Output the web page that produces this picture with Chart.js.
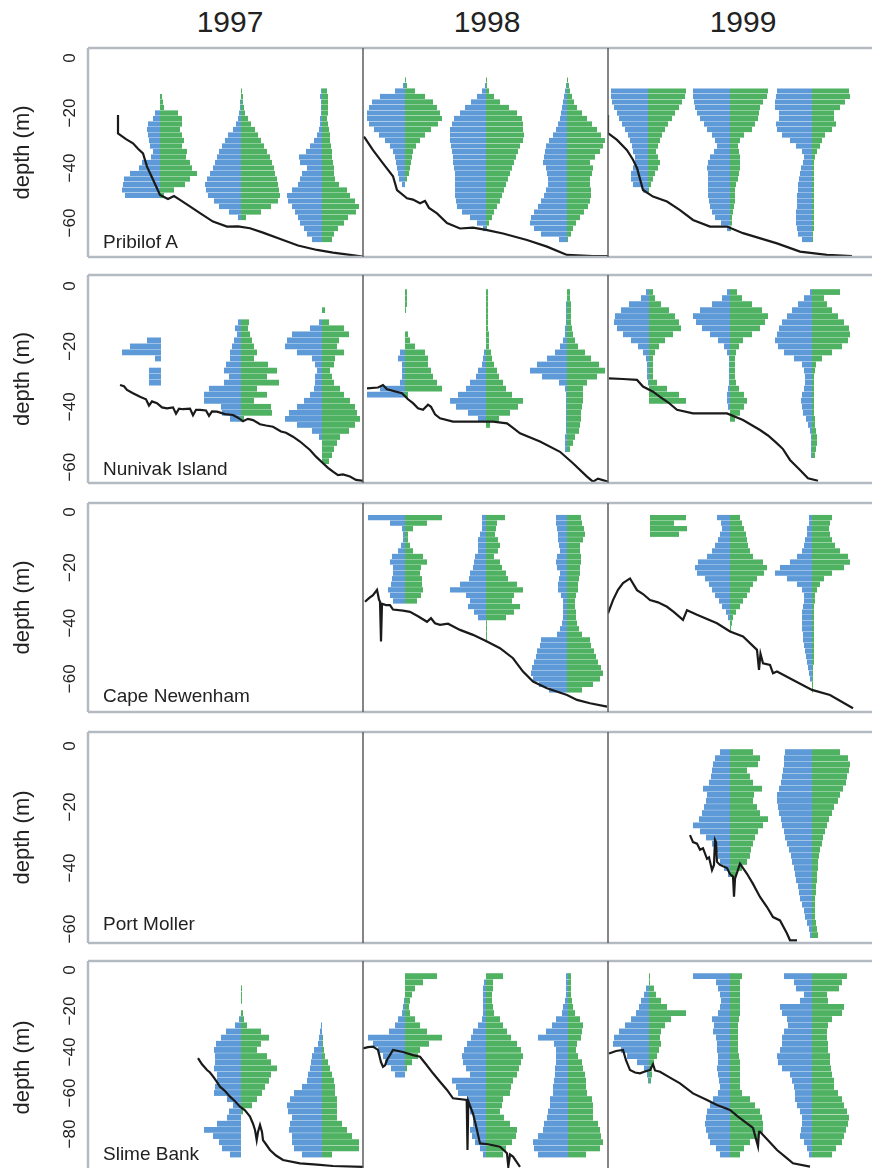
<!DOCTYPE html>
<html>
<head>
<meta charset="utf-8">
<title>Depth profiles 1997-1999</title>
<script src="https://cdn.jsdelivr.net/npm/chart.js"></script>
<style>
    html, body { margin: 0; padding: 0; background: #fff; overflow: hidden; }
    body { width: 872px; height: 1168px; position: relative; font-family: "Liberation Sans", Arial, sans-serif; color: #222; }
    .panel { position: absolute; }
    .year { position: absolute; width: 200px; text-align: center; font-size: 30px; line-height: 1; }
    .site { position: absolute; font-size: 19px; line-height: 1; pointer-events: none; }
</style>
</head>
<body>
<script>
// ---- data ----
const sites = ['Pribilof A', 'Nunivak Island', 'Cape Newenham', 'Port Moller', 'Slime Bank'];
const years = ['1997', '1998', '1999'];
const binStep = [2, 2, 2, 2, 3]; // depth bin (m) per site

// Pribilof A
const PA97_x = [72, 153, 234];
const PA97_top = [14, 12, 12];
const PA97_blue = [
    [0, 0, 0, 5, 7, 12, 13, 12, 11, 10, 7, 9, 18, 21, 30, 36, 37, 38, 35],
    [0, 0, 1, 1, 2, 3, 5, 8, 13, 16, 19, 22, 24, 26, 28, 31, 34, 36, 35, 33, 27, 22, 12, 3],
    [1, 2, 1, 1, 1, 2, 2, 3, 5, 8, 12, 16, 23, 22, 15, 20, 22, 24, 30, 35, 34, 30, 27, 24, 22, 18, 15, 10]
];
const PA97_green = [
    [2, 3, 4, 18, 22, 22, 20, 22, 24, 22, 27, 26, 30, 32, 37, 30, 25, 14, 4],
    [1, 2, 2, 3, 4, 7, 10, 14, 17, 20, 23, 26, 29, 31, 33, 34, 36, 37, 38, 39, 37, 30, 20, 5],
    [5, 6, 6, 6, 6, 5, 6, 7, 8, 8, 9, 10, 10, 11, 12, 12, 13, 17, 25, 28, 33, 37, 34, 26, 22, 16, 12, 10]
];
const PA97_bed = [[30, 20.7], [30, 27.4], [38, 29.5], [45, 31], [50, 33], [55, 34.7], [59, 39.5], [66, 45], [72, 49.8], [80, 51.3], [86, 50.2], [92, 51.6], [100, 53.5], [112, 56.4], [125, 59.5], [139, 61.3], [150, 61.2], [162, 61.9], [175, 63.5], [195, 66.2], [210, 68.2], [229, 69.8], [245, 70.8], [262, 71.6], [275, 72.2]];

const PA98_x = [42, 123, 204];
const PA98_top = [8, 8, 8];
const PA98_blue = [
    [0, 2, 10, 25, 33, 36, 38, 38, 36, 31, 26, 20, 15, 12, 10, 9, 8, 7, 6, 3],
    [0, 1, 4, 9, 15, 21, 26, 32, 34, 36, 36, 36, 35, 34, 33, 33, 32, 31, 31, 31, 31, 31, 30, 29, 24, 16, 9, 3],
    [0, 1, 2, 3, 4, 5, 6, 7, 9, 11, 14, 18, 21, 22, 23, 24, 21, 20, 19, 19, 21, 23, 26, 29, 33, 36, 37, 33, 26, 8]
];
const PA98_green = [
    [1, 2, 10, 20, 28, 32, 35, 37, 33, 26, 20, 15, 11, 8, 7, 6, 5, 4, 2, 0],
    [1, 1, 3, 8, 14, 23, 31, 36, 37, 37, 38, 37, 34, 32, 30, 28, 26, 24, 22, 20, 18, 16, 14, 11, 8, 6, 3, 1],
    [1, 2, 3, 5, 7, 10, 15, 20, 25, 30, 34, 38, 36, 33, 28, 23, 26, 25, 23, 23, 24, 24, 23, 21, 17, 13, 9, 6, 4, 1]
];
const PA98_bed = [[1, 28.6], [10, 33.5], [20, 38.3], [30, 43], [34, 48], [44, 51], [50, 51.5], [57, 52.8], [62, 52], [66, 54.5], [74, 56.5], [84, 60], [97, 62], [110, 61.7], [123, 62.5], [140, 63.8], [164, 66.2], [184, 68.6], [204, 71.6], [230, 72], [245, 72]];

const PA99_x = [40, 122, 204];
const PA99_top = [12, 12, 12];
const PA99_blue = [
    [37, 37, 36, 34, 31, 29, 26, 23, 20, 18, 16, 15, 13, 13, 15, 17, 17, 15, 5],
    [37, 37, 36, 35, 33, 30, 26, 23, 18, 15, 13, 16, 20, 22, 23, 22, 22, 22, 22, 22, 21, 20, 18, 15, 9, 3],
    [35, 36, 37, 37, 33, 33, 36, 35, 30, 22, 16, 10, 8, 9, 11, 12, 13, 14, 14, 15, 15, 15, 16, 16, 16, 15, 14, 10]
];
const PA99_green = [
    [38, 37, 34, 31, 27, 24, 20, 17, 14, 12, 10, 8, 10, 12, 10, 7, 5, 3, 1],
    [38, 37, 33, 30, 29, 28, 25, 22, 14, 10, 8, 9, 10, 10, 10, 9, 8, 6, 5, 5, 5, 4, 3, 2, 2, 1],
    [37, 38, 33, 28, 22, 22, 24, 20, 13, 10, 8, 5, 3, 2, 2, 2, 2, 2, 2, 2, 2, 2, 2, 2, 2, 2, 1, 1]
];
const PA99_bed = [[0, 20.7], [0, 27.3], [9, 29.8], [19, 33.5], [25, 37], [29, 40], [35, 48], [45, 50.4], [59, 52.2], [72, 55.3], [85, 58.9], [102, 61.3], [119, 61.3], [135, 63.7], [169, 67.4], [192, 70.4], [219, 71.6], [244, 72]];

// Nunivak Island
const NI97_x = [73, 153, 234];
const NI97_top = [18, 12, 8];
const NI97_blue = [
    [14, 31, 39, 6, 0, 12, 12, 12],
    [3, 6, 4, 7, 9, 11, 11, 15, 17, 12, 17, 32, 37, 37, 20, 19, 11],
    [0, 0, 3, 12, 30, 35, 37, 25, 10, 7, 5, 7, 7, 8, 12, 18, 25, 33, 37, 25, 10, 3, 0, 0, 0, 0]
];
const NI97_green = [
    [0, 0, 0, 0, 0, 0, 0, 0],
    [8, 7, 9, 11, 13, 16, 13, 27, 36, 26, 38, 16, 26, 13, 30, 31, 3],
    [3, 0, 7, 22, 27, 17, 15, 22, 13, 12, 8, 10, 12, 18, 22, 28, 33, 35, 38, 33, 27, 18, 15, 12, 10, 7]
];
const NI97_bed = [[32, 32.8], [36, 33.2], [39, 34.4], [45, 35.5], [52, 36.7], [58, 37.5], [61, 39.6], [64, 38.2], [69, 38.8], [74, 40.2], [79, 40.5], [85, 40.2], [88, 42.3], [91, 40.6], [95, 40.8], [102, 40.6], [105, 42.8], [108, 41], [112, 41], [118, 41.2], [121, 43], [124, 41.5], [129, 41.6], [137, 42.4], [145, 42.7], [150, 43.6], [155, 44.8], [160, 44], [165, 44.4], [172, 45.8], [178, 46.2], [185, 46.6], [193, 48.2], [198, 48.6], [205, 49.9], [212, 51.5], [222, 54.3], [228, 56.5], [235, 58.7], [240, 60.2], [245, 61.5], [250, 62.6], [255, 62.4], [262, 63.1], [268, 64.2], [275, 64.5]];

const NI98_x = [42, 123, 204];
const NI98_top = [2, 2, 2];
const NI98_blue = [
    [0, 0, 0, 0, 0, 0, 0, 0, 0, 0, 5, 7, 3, 3, 3, 5, 25, 38],
    [0, 0, 0, 0, 0, 0, 0, 0, 0, 0, 2, 3, 4, 8, 10, 16, 20, 28, 36, 30, 18, 8, 0],
    [0, 0, 1, 1, 1, 1, 2, 2, 4, 7, 12, 20, 30, 37, 25, 8, 2, 1, 1, 1, 1, 1, 1, 1, 2, 2, 2]
];
const NI98_green = [
    [2, 2, 2, 1, 0, 0, 0, 3, 5, 10, 20, 23, 23, 26, 28, 32, 37, 3],
    [2, 2, 2, 2, 2, 2, 2, 3, 3, 3, 5, 6, 8, 11, 13, 17, 20, 26, 37, 32, 24, 13, 4],
    [3, 3, 4, 4, 4, 4, 5, 6, 8, 11, 18, 24, 32, 38, 30, 20, 16, 16, 16, 15, 14, 14, 13, 12, 8, 6, 3]
];
const NI98_bed = [[4, 33.9], [15, 33.6], [20, 32.8], [24, 34.2], [39, 35.5], [45, 37.5], [50, 38.8], [55, 40.5], [60, 41], [65, 39.3], [68, 40], [72, 42.5], [77, 43.8], [90, 44.9], [130, 44.9], [144, 45.5], [150, 47], [157, 48.8], [177, 51.5], [197, 54.9], [210, 58.7], [224, 63.1], [230, 64.8], [235, 63.8], [245, 64.8]];

const NI99_x = [41, 122, 204];
const NI99_top = [2, 2, 2];
const NI99_blue = [
    [3, 8, 20, 28, 34, 35, 32, 26, 18, 11, 6, 3, 2, 2, 2, 1, 0, 0, 0],
    [3, 8, 18, 30, 37, 34, 28, 20, 12, 6, 3, 1, 1, 1, 1, 1, 2, 3, 3, 2, 0, 0],
    [2, 8, 14, 20, 25, 30, 33, 35, 37, 34, 28, 18, 10, 8, 7, 7, 8, 10, 11, 10, 9, 6, 4, 2, 1, 1, 1, 1]
];
const NI99_green = [
    [4, 6, 12, 20, 26, 30, 32, 24, 16, 10, 6, 4, 4, 4, 4, 8, 18, 30, 37],
    [7, 12, 22, 32, 38, 35, 30, 22, 13, 9, 6, 5, 5, 5, 5, 6, 9, 14, 17, 14, 10, 5],
    [28, 12, 15, 20, 26, 32, 37, 38, 36, 30, 20, 10, 4, 3, 2, 2, 2, 2, 2, 2, 2, 3, 3, 4, 5, 5, 4, 3]
];
const NI99_bed = [[1, 30.6], [15, 30.8], [29, 31.1], [35, 33.3], [45, 35], [52, 36.7], [60, 38.5], [69, 41], [85, 42.2], [119, 42.2], [135, 44.4], [152, 47.7], [160, 49.5], [169, 52.1], [175, 54], [182, 57.6], [192, 60.9], [200, 63.7], [210, 64.5]];

// Cape Newenham
const CN98_x = [42, 123, 204];
const CN98_top = [2, 2, 2];
const CN98_blue = [
    [37, 15, 3, 2, 2, 4, 7, 13, 15, 12, 12, 13, 14, 17, 15, 12],
    [4, 4, 4, 6, 8, 8, 8, 11, 12, 13, 16, 17, 26, 36, 20, 16, 18, 12, 8, 0, 0, 0, 0],
    [11, 11, 10, 9, 9, 8, 7, 10, 11, 10, 7, 8, 9, 9, 6, 4, 4, 4, 4, 5, 7, 10, 26, 27, 30, 31, 33, 35, 36, 34, 28, 18]
];
const CN98_green = [
    [37, 22, 8, 3, 3, 5, 8, 18, 22, 16, 15, 17, 17, 18, 16, 12],
    [19, 11, 10, 9, 12, 14, 12, 8, 14, 16, 20, 22, 31, 37, 28, 26, 34, 28, 20, 1, 1, 1, 1],
    [14, 15, 17, 18, 16, 13, 13, 14, 14, 13, 13, 12, 11, 11, 9, 8, 8, 9, 9, 10, 12, 15, 23, 24, 27, 29, 31, 34, 36, 33, 26, 15]
];
const CN98_bed = [[2, 32.3], [6, 31], [10, 29.9], [14, 28], [16, 31.5], [17, 32.3], [18, 46.6], [19, 33], [23, 33.5], [27, 33.5], [30, 35.1], [40, 35.5], [47, 35.9], [55, 37.5], [64, 39.5], [68, 38.2], [72, 40], [77, 40.6], [85, 40.2], [97, 42.4], [110, 44.2], [124, 46.6], [137, 49], [150, 52.6], [160, 57.4], [170, 61], [184, 63.4], [204, 65.8], [214, 67.6], [227, 68.8], [244, 70]];

const CN99_x = [42, 122, 204];
const CN99_top = [2, 2, 2];
const CN99_blue = [
    [0, 0, 0, 0],
    [13, 9, 8, 10, 12, 15, 18, 23, 32, 35, 33, 25, 21, 18, 15, 11, 8, 4, 2, 0, 0],
    [3, 3, 5, 5, 7, 8, 10, 15, 22, 32, 37, 25, 15, 10, 8, 8, 9, 10, 10, 10, 10, 9, 9, 8, 7, 6, 5, 4, 3, 2, 0, 0]
];
const CN99_green = [
    [36, 24, 37, 29],
    [10, 12, 14, 16, 17, 18, 20, 23, 33, 37, 34, 27, 23, 20, 17, 13, 10, 6, 3, 2, 1],
    [20, 18, 17, 18, 20, 23, 28, 36, 38, 32, 20, 12, 8, 5, 3, 3, 2, 2, 2, 2, 2, 2, 2, 2, 2, 2, 2, 1, 1, 1, 1, 1]
];
const CN99_bed = [[0, 36.5], [5, 31.7], [10, 28], [15, 25.6], [22, 23.9], [29, 28.1], [35, 29.5], [42, 31.7], [50, 32.5], [59, 34.1], [66, 36], [75, 38.8], [79, 35.3], [89, 37], [109, 40], [122, 43], [135, 44.8], [149, 49.6], [151, 56.8], [152.5, 51], [155, 54.4], [162, 55], [165, 58], [169, 57.4], [185, 60.4], [204, 64], [222, 65.8], [245, 70.6]];

// Port Moller
const PM99_x = [122, 204];
const PM99_top = [2, 2];
const PM99_blue = [
    [10, 15, 17, 18, 19, 21, 27, 23, 24, 26, 28, 31, 37, 30, 24, 18, 14, 12, 10, 6, 2],
    [27, 28, 28, 29, 30, 31, 33, 35, 35, 34, 33, 31, 30, 28, 27, 25, 23, 21, 20, 18, 17, 16, 14, 13, 12, 10, 8, 7, 5, 3, 2]
];
const PM99_green = [
    [23, 30, 28, 17, 20, 23, 32, 24, 23, 27, 30, 38, 33, 28, 25, 23, 21, 20, 17, 12, 6],
    [28, 36, 38, 37, 35, 34, 31, 28, 26, 22, 20, 17, 15, 13, 11, 10, 8, 7, 6, 6, 5, 5, 4, 4, 3, 3, 3, 3, 4, 5, 6]
];
const PM99_bed = [[82, 29.2], [85, 31.5], [89, 32], [92, 34], [95, 33.5], [99, 37], [101, 36.5], [104, 40.7], [106, 39], [107, 30.8], [108, 31.5], [109, 38], [112, 39], [119, 40], [122, 42], [125, 42.8], [126, 49.4], [127, 43.5], [132, 38.6], [139, 41.9], [145, 45.2], [152, 49.5], [159, 52.8], [165, 56.1], [172, 57.2], [179, 61.5], [182, 63.7], [189, 63.7]];

// Slime Bank
const SB97_x = [153, 234];
const SB97_top = [9, 27];
const SB97_blue = [
    [0, 0, 0, 0, 0, 2, 6, 15, 20, 25, 27, 26, 26, 27, 24, 24, 26, 27, 14, 8, 12, 14, 24, 37, 28, 22, 19, 11],
    [1, 2, 3, 4, 8, 10, 11, 12, 14, 15, 20, 28, 32, 35, 34, 30, 32, 33, 30, 30, 28, 20]
];
const SB97_green = [
    [1, 1, 1, 0, 2, 3, 6, 20, 28, 20, 16, 26, 30, 36, 30, 28, 24, 21, 16, 11, 2, 0, 0, 0, 0, 0, 0, 0],
    [0, 0, 1, 1, 2, 3, 6, 8, 10, 12, 13, 13, 15, 15, 15, 15, 20, 25, 30, 37, 37, 10]
];
const SB97_bed = [[110, 43], [114, 46], [119, 48.8], [122, 50], [125, 51.9], [128, 54], [132, 56.9], [137, 59], [142, 61.8], [147, 64], [152, 66.7], [157, 68.5], [162, 71.5], [165, 75], [167, 78], [168.7, 83], [170, 79], [172, 75.6], [174, 79], [175, 83], [178, 85], [182, 87.8], [188, 90.5], [195, 92.7], [212, 94.3], [229, 94.9], [245, 95.6], [275, 96]];

const SB98_x = [42, 123, 205];
const SB98_top = [3, 3, 3];
const SB98_blue = [
    [0, 0, 0, 0, 1, 2, 3, 7, 10, 16, 37, 32, 27, 22, 20, 14, 10],
    [0, 2, 3, 3, 3, 3, 3, 4, 8, 13, 15, 19, 22, 24, 23, 20, 16, 34, 30, 28, 19, 18, 16, 13, 13, 16, 14, 11, 6, 3],
    [2, 2, 2, 2, 3, 5, 6, 12, 16, 22, 30, 14, 12, 12, 12, 13, 13, 14, 15, 15, 18, 18, 20, 21, 24, 25, 30, 35, 34, 30]
];
const SB98_green = [
    [32, 18, 10, 7, 5, 4, 5, 10, 15, 22, 37, 24, 15, 13, 7, 2, 0],
    [17, 7, 7, 6, 6, 7, 8, 14, 17, 21, 25, 31, 35, 37, 35, 33, 31, 27, 25, 24, 17, 16, 14, 18, 24, 31, 30, 26, 20, 17],
    [3, 3, 3, 3, 4, 5, 7, 12, 15, 14, 13, 9, 8, 10, 14, 15, 17, 18, 18, 19, 24, 25, 25, 25, 30, 32, 33, 35, 32, 18]
];
const SB98_bed = [[0, 38.2], [5, 37.6], [10, 37.4], [15, 39], [18, 45], [20, 47.2], [22, 46.5], [24, 43.9], [30, 39], [40, 40], [50, 41.5], [57, 42.3], [63, 46], [70, 50.4], [77, 54.5], [84, 58.5], [90, 62.6], [103.7, 63.4], [104.5, 87.8], [105.3, 64], [110, 70], [113, 76], [117, 84.6], [125, 85], [137, 86.2], [144, 89.4], [145.3, 95.9], [147, 90], [150, 91], [157, 96]];

const SB99_x = [41, 122, 204];
const SB99_top = [3, 3, 3];
const SB99_blue = [
    [0, 0, 3, 5, 8, 10, 13, 18, 24, 30, 35, 36, 28, 22, 12, 5, 2, 1],
    [37, 14, 12, 10, 9, 10, 12, 18, 16, 17, 14, 13, 13, 12, 12, 13, 12, 11, 10, 12, 17, 20, 23, 24, 25, 24, 22, 20, 14, 10],
    [28, 18, 16, 8, 12, 32, 30, 25, 24, 28, 30, 30, 32, 35, 34, 30, 22, 20, 18, 17, 17, 15, 12, 10, 10, 11, 12, 8, 5, 3]
];
const SB99_green = [
    [1, 1, 5, 7, 12, 18, 37, 22, 16, 12, 11, 12, 10, 8, 5, 3, 3, 2],
    [12, 10, 10, 10, 10, 10, 10, 9, 8, 8, 8, 8, 8, 9, 10, 10, 10, 10, 10, 12, 20, 25, 30, 32, 33, 33, 28, 20, 14, 10],
    [35, 30, 27, 15, 16, 32, 30, 20, 16, 15, 15, 16, 16, 18, 18, 19, 20, 22, 22, 26, 30, 32, 35, 37, 36, 34, 32, 30, 24, 20]
];
const SB99_bed = [[1, 40.7], [8, 39.5], [15, 39], [18, 44], [22, 48.8], [27, 50], [32, 50.4], [37, 49.5], [42, 48.8], [45, 46], [47, 49], [52, 49.6], [62, 52.5], [72, 55.3], [85, 60.2], [99, 63.4], [109, 65.9], [122, 68.3], [130, 71.5], [139, 74.8], [145, 77], [150, 86], [151, 79], [152, 78.9], [160, 83], [169, 87.8], [177, 91], [185, 94.3], [202, 95.9]];

// [stations, bin tops, blue, green, bottom profile] per site and year; null = no survey
const panels = [
    [[PA97_x, PA97_top, PA97_blue, PA97_green, PA97_bed], [PA98_x, PA98_top, PA98_blue, PA98_green, PA98_bed], [PA99_x, PA99_top, PA99_blue, PA99_green, PA99_bed]],
    [[NI97_x, NI97_top, NI97_blue, NI97_green, NI97_bed], [NI98_x, NI98_top, NI98_blue, NI98_green, NI98_bed], [NI99_x, NI99_top, NI99_blue, NI99_green, NI99_bed]],
    [null, [CN98_x, CN98_top, CN98_blue, CN98_green, CN98_bed], [CN99_x, CN99_top, CN99_blue, CN99_green, CN99_bed]],
    [null, null, [PM99_x, PM99_top, PM99_blue, PM99_green, PM99_bed]],
    [[SB97_x, SB97_top, SB97_blue, SB97_green, SB97_bed], [SB98_x, SB98_top, SB98_blue, SB98_green, SB98_bed], [SB99_x, SB99_top, SB99_blue, SB99_green, SB99_bed]]
];

// ---- layout ----
const colLeft = [88, 363, 608];
const colRight = [363, 608, 878];
const rowTop = [48, 275, 503, 732, 961];
const rowBottom = [257, 483, 712, 943, 1174];
const zeroPx = [58, 286, 512, 746, 970];
const pxPerM = [2.75, 3.02, 2.78, 3.05, 2.05];
const siteBaseline = [248, 475, 702, 930, 1160];
const yearCenter = [230, 487, 743];

const BLUE = '#5d9ad7';
const GREEN = '#4fb262';

Chart.defaults.font.family = '"Liberation Sans", Arial, sans-serif';
Chart.defaults.color = '#222';

const framePlugin = {
    id: 'frame',
    afterDraw(chart, args, opts) {
        const { ctx, chartArea: a } = chart;
        ctx.save();
        ctx.strokeStyle = '#b3bac2';
        ctx.lineWidth = 2.5;
        ctx.beginPath();
        ctx.moveTo(a.left, a.top); ctx.lineTo(a.right, a.top);
        ctx.moveTo(a.left, a.bottom); ctx.lineTo(a.right, a.bottom);
        if (opts.outer) { ctx.moveTo(a.left, a.top); ctx.lineTo(a.left, a.bottom); }
        ctx.stroke();
        if (!opts.outer) {
            ctx.strokeStyle = '#5c5c5c';
            ctx.lineWidth = 1.5;
            ctx.beginPath();
            ctx.moveTo(a.left, a.top); ctx.lineTo(a.left, a.bottom);
            ctx.stroke();
        }
        ctx.restore();
    }
};

function sideBars(stations, tops, widths, step, left) {
    const out = [];
    widths.forEach((kite, k) => {
        kite.forEach((w, i) => {
            if (w <= 0) return;
            const c = stations[k];
            out.push({ y: -(tops[k] + i * step), x: left ? [c - w, c] : [c, c + w] });
        });
    });
    return out;
}

years.forEach((yr, c) => {
    const t = document.createElement('div');
    t.className = 'year';
    t.textContent = yr;
    t.style.left = (yearCenter[c] - 100) + 'px';
    t.style.top = '7px';
    document.body.appendChild(t);
});

sites.forEach((site, r) => {
    const step = binStep[r];
    const yMax = (zeroPx[r] - rowTop[r]) / pxPerM[r];
    const yMin = -(rowBottom[r] - zeroPx[r]) / pxPerM[r];

    for (let c = 0; c < 3; c++) {
        const first = c === 0;
        const box = document.createElement('div');
        box.className = 'panel';
        box.style.left = (first ? 0 : colLeft[c] - 2) + 'px';
        box.style.top = (rowTop[r] - 2) + 'px';
        box.style.width = (first ? colRight[0] + 2 : colRight[c] - colLeft[c] + 4) + 'px';
        box.style.height = (rowBottom[r] - rowTop[r] + 4) + 'px';
        const canvas = document.createElement('canvas');
        box.appendChild(canvas);
        document.body.appendChild(box);

        const p = panels[r][c];
        const datasets = [];
        if (p) {
            const [xs, tops, blue, green, bed] = p;
            datasets.push({
                type: 'line',
                data: bed.map(([x, d]) => ({ x, y: -d })),
                borderColor: '#1a1a1a',
                borderWidth: 2.2,
                pointRadius: 0,
                tension: 0
            });
            datasets.push({ type: 'bar', indexAxis: 'y', grouped: false, data: sideBars(xs, tops, blue, step, true), backgroundColor: BLUE });
            datasets.push({ type: 'bar', indexAxis: 'y', grouped: false, data: sideBars(xs, tops, green, step, false), backgroundColor: GREEN });
        }

        const yScale = { type: 'linear', min: yMin, max: yMax, offset: false, display: false };
        if (first) {
            Object.assign(yScale, {
                display: true,
                grid: { display: false },
                border: { display: false },
                ticks: {
                    stepSize: 20,
                    includeBounds: false,
                    autoSkip: false,
                    minRotation: 90,
                    maxRotation: 90,
                    crossAlign: 'center',
                    padding: -5,
                    font: { size: 17 },
                    color: '#222',
                    callback: v => v === 0 ? '0' : '\u2212' + Math.abs(v)
                },
                title: { display: true, text: 'depth (m)', font: { size: 22 }, color: '#222', padding: { top: 10, bottom: 0 } },
                afterFit: s => { s.width = 88; s.paddingTop = 0; s.paddingBottom = 0; }
            });
        }

        new Chart(canvas, {
            type: 'bar',
            data: { datasets },
            options: {
                responsive: true,
                maintainAspectRatio: false,
                animation: false,
                layout: { padding: first ? { left: 0, right: 2, top: 2, bottom: 2 } : 2 },
                datasets: { bar: { barPercentage: 0.95, categoryPercentage: 1, borderWidth: 0 } },
                scales: {
                    x: { type: 'linear', min: 0, max: colRight[c] - colLeft[c], offset: false, display: false },
                    y: yScale
                },
                plugins: { legend: { display: false }, tooltip: { enabled: false }, frame: { outer: first } }
            },
            plugins: [framePlugin]
        });
    }

    const label = document.createElement('div');
    label.className = 'site';
    label.textContent = site;
    label.style.left = '103px';
    label.style.top = (siteBaseline[r] - 16) + 'px';
    document.body.appendChild(label);
});
</script>
</body>
</html>
